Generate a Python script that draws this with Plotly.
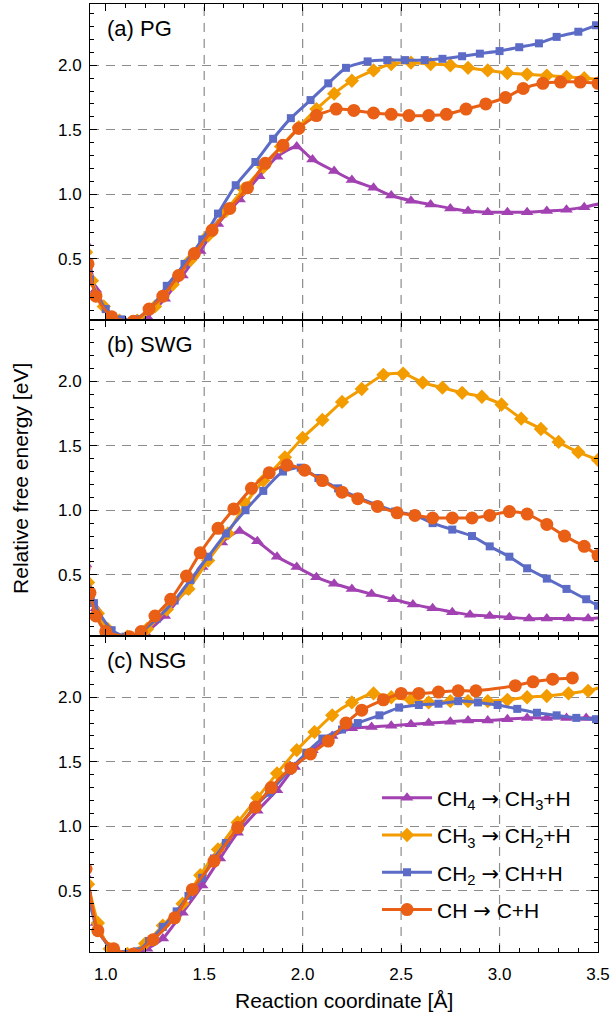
import plotly.graph_objects as go
from plotly.subplots import make_subplots

# ---------------- data ----------------
# (a) PG
PG_CH4_x = [0.90, 0.95, 1.03, 1.10, 1.21, 1.30, 1.39, 1.48, 1.57, 1.68, 1.78, 1.87, 1.97, 2.05, 2.16, 2.25, 2.36, 2.45, 2.55, 2.65, 2.75, 2.84, 2.94, 3.04, 3.14, 3.24, 3.34, 3.43, 3.52]
PG_CH4_y = [0.62, 0.26, 0.05, 0.01, 0.05, 0.19, 0.37, 0.56, 0.77, 0.96, 1.14, 1.29, 1.37, 1.27, 1.18, 1.11, 1.05, 0.99, 0.95, 0.92, 0.89, 0.87, 0.86, 0.86, 0.86, 0.87, 0.88, 0.90, 0.93]
PG_CH3_x = [0.90, 0.93, 0.99, 1.07, 1.16, 1.25, 1.34, 1.43, 1.52, 1.61, 1.70, 1.80, 1.89, 1.98, 2.07, 2.16, 2.25, 2.36, 2.45, 2.55, 2.65, 2.75, 2.84, 2.94, 3.04, 3.14, 3.24, 3.34, 3.43, 3.52]
PG_CH3_y = [0.55, 0.33, 0.13, 0.02, 0.02, 0.13, 0.30, 0.49, 0.68, 0.87, 1.04, 1.21, 1.37, 1.52, 1.66, 1.78, 1.88, 1.96, 2.01, 2.02, 2.01, 2.00, 1.98, 1.96, 1.94, 1.93, 1.92, 1.91, 1.90, 1.89]
PG_CH2_x = [0.88, 0.92, 1.00, 1.08, 1.15, 1.23, 1.31, 1.40, 1.49, 1.57, 1.66, 1.76, 1.85, 1.94, 2.04, 2.13, 2.22, 2.33, 2.43, 2.52, 2.62, 2.71, 2.81, 2.90, 3.00, 3.10, 3.20, 3.29, 3.40, 3.49]
PG_CH2_y = [0.62, 0.34, 0.11, 0.03, 0.03, 0.12, 0.29, 0.46, 0.65, 0.85, 1.07, 1.25, 1.43, 1.59, 1.73, 1.86, 1.98, 2.03, 2.04, 2.04, 2.04, 2.05, 2.07, 2.09, 2.11, 2.14, 2.17, 2.22, 2.26, 2.31]
PG_CH_x = [0.88, 0.91, 0.95, 1.03, 1.14, 1.22, 1.29, 1.37, 1.45, 1.54, 1.63, 1.72, 1.81, 1.90, 1.98, 2.07, 2.17, 2.26, 2.36, 2.45, 2.54, 2.64, 2.73, 2.83, 2.93, 3.03, 3.12, 3.22, 3.31, 3.41, 3.50]
PG_CH_y = [0.70, 0.46, 0.21, 0.05, 0.015, 0.11, 0.21, 0.37, 0.54, 0.72, 0.89, 1.05, 1.24, 1.38, 1.51, 1.61, 1.66, 1.65, 1.63, 1.62, 1.61, 1.61, 1.62, 1.66, 1.70, 1.75, 1.82, 1.86, 1.87, 1.87, 1.86]

# (b) SWG
SWG_CH4_x = [0.90, 0.95, 1.01, 1.09, 1.20, 1.30, 1.40, 1.49, 1.59, 1.68, 1.77, 1.87, 1.97, 2.07, 2.16, 2.25, 2.35, 2.46, 2.56, 2.66, 2.76, 2.85, 2.95, 3.05, 3.15, 3.24, 3.35, 3.45, 3.54]
SWG_CH4_y = [0.58, 0.24, 0.06, 0.00, 0.05, 0.18, 0.37, 0.56, 0.75, 0.84, 0.76, 0.64, 0.56, 0.48, 0.43, 0.39, 0.35, 0.31, 0.27, 0.24, 0.21, 0.19, 0.18, 0.17, 0.16, 0.16, 0.16, 0.16, 0.17]
SWG_CH3_x = [0.89, 0.91, 0.96, 1.01, 1.11, 1.21, 1.31, 1.42, 1.52, 1.62, 1.71, 1.80, 1.91, 2.00, 2.10, 2.20, 2.30, 2.41, 2.51, 2.61, 2.71, 2.81, 2.91, 3.01, 3.11, 3.21, 3.30, 3.40, 3.50]
SWG_CH3_y = [0.60, 0.44, 0.20, 0.08, 0.02, 0.08, 0.23, 0.39, 0.61, 0.82, 1.05, 1.23, 1.41, 1.56, 1.70, 1.84, 1.94, 2.05, 2.06, 1.99, 1.95, 1.91, 1.88, 1.82, 1.71, 1.63, 1.53, 1.45, 1.39]
SWG_CH2_x = [0.89, 0.94, 1.03, 1.10, 1.17, 1.26, 1.35, 1.43, 1.52, 1.61, 1.71, 1.80, 1.90, 1.99, 2.08, 2.18, 2.28, 2.38, 2.47, 2.57, 2.66, 2.76, 2.86, 2.95, 3.05, 3.14, 3.24, 3.34, 3.44, 3.50]
SWG_CH2_y = [0.60, 0.28, 0.07, 0.02, 0.05, 0.16, 0.30, 0.46, 0.64, 0.82, 1.00, 1.15, 1.30, 1.33, 1.25, 1.17, 1.10, 1.04, 0.99, 0.96, 0.90, 0.85, 0.80, 0.72, 0.64, 0.55, 0.47, 0.39, 0.31, 0.26]
SWG_CH_x = [0.89, 0.92, 0.95, 1.00, 1.12, 1.18, 1.25, 1.33, 1.41, 1.48, 1.57, 1.65, 1.74, 1.83, 1.92, 2.01, 2.10, 2.20, 2.28, 2.38, 2.48, 2.57, 2.66, 2.76, 2.86, 2.95, 3.05, 3.14, 3.24, 3.33, 3.43, 3.50]
SWG_CH_y = [0.55, 0.36, 0.18, 0.06, 0.02, 0.06, 0.18, 0.31, 0.49, 0.67, 0.86, 1.01, 1.17, 1.29, 1.35, 1.31, 1.23, 1.14, 1.09, 1.03, 0.98, 0.96, 0.94, 0.94, 0.94, 0.96, 0.99, 0.97, 0.89, 0.80, 0.72, 0.65]

# (c) NSG
NSG_CH4_x = [0.90, 0.95, 1.03, 1.12, 1.21, 1.29, 1.39, 1.49, 1.58, 1.67, 1.77, 1.87, 1.96, 2.05, 2.15, 2.25, 2.35, 2.45, 2.55, 2.64, 2.75, 2.84, 2.94, 3.04, 3.14, 3.24, 3.34, 3.44, 3.53]
NSG_CH4_y = [0.62, 0.25, 0.04, 0.00, 0.05, 0.13, 0.33, 0.54, 0.75, 0.95, 1.12, 1.28, 1.46, 1.59, 1.70, 1.76, 1.77, 1.78, 1.79, 1.80, 1.81, 1.82, 1.82, 1.83, 1.84, 1.84, 1.84, 1.84, 1.84]
NSG_CH3_x = [0.88, 0.91, 0.96, 1.02, 1.11, 1.20, 1.29, 1.39, 1.48, 1.57, 1.67, 1.77, 1.87, 1.97, 2.06, 2.15, 2.25, 2.36, 2.45, 2.55, 2.64, 2.75, 2.84, 2.94, 3.04, 3.14, 3.24, 3.35, 3.45, 3.54]
NSG_CH3_y = [0.75, 0.55, 0.25, 0.05, 0.01, 0.09, 0.23, 0.40, 0.62, 0.82, 1.03, 1.22, 1.41, 1.59, 1.73, 1.86, 1.96, 2.03, 2.00, 1.98, 1.96, 1.97, 1.97, 1.97, 1.98, 2.00, 2.01, 2.03, 2.05, 2.09]
NSG_CH2_x = [0.88, 0.91, 0.96, 1.03, 1.10, 1.16, 1.22, 1.29, 1.36, 1.42, 1.49, 1.55, 1.61, 1.68, 1.75, 1.83, 1.93, 2.02, 2.10, 2.20, 2.28, 2.39, 2.49, 2.59, 2.69, 2.79, 2.89, 2.99, 3.09, 3.19, 3.29, 3.39, 3.49]
NSG_CH2_y = [0.70, 0.46, 0.19, 0.05, 0.01, 0.03, 0.11, 0.22, 0.34, 0.46, 0.60, 0.75, 0.87, 1.00, 1.14, 1.26, 1.43, 1.57, 1.68, 1.75, 1.80, 1.86, 1.92, 1.94, 1.95, 1.97, 1.96, 1.94, 1.91, 1.88, 1.86, 1.84, 1.83]
NSG_CH_x = [0.88, 0.90, 0.96, 1.04, 1.14, 1.24, 1.35, 1.44, 1.55, 1.67, 1.76, 1.84, 1.94, 2.04, 2.13, 2.22, 2.30, 2.41, 2.50, 2.59, 2.69, 2.79, 2.88, 3.08, 3.17, 3.27, 3.37]
NSG_CH_y = [0.80, 0.67, 0.19, 0.05, 0.01, 0.12, 0.29, 0.51, 0.73, 0.99, 1.15, 1.30, 1.45, 1.56, 1.66, 1.80, 1.90, 1.98, 2.03, 2.03, 2.04, 2.05, 2.05, 2.09, 2.12, 2.14, 2.15]

panel_labels = ["(a) PG", "(b) SWG", "(c) NSG"]
ARROW = '<span style="font-family:DejaVu Sans">→</span>'
series_names = ["CH<sub>4</sub> " + ARROW + " CH<sub>3</sub>+H",
                "CH<sub>3</sub> " + ARROW + " CH<sub>2</sub>+H",
                "CH<sub>2</sub> " + ARROW + " CH+H",
                "CH " + ARROW + " C+H"]
x_title = "Reaction coordinate [Å]"
y_title = "Relative free energy [eV]"

# ---------------- styling ----------------
colors = ["#A241B1", "#F39C00", "#5B6BC6", "#E85F15"]
symbols = ["triangle-up", "diamond", "square", "circle"]
msizes = [11, 11, 8, 13]
FONT = "Liberation Sans, Arial, Helvetica, sans-serif"

panels = [
    [(PG_CH4_x, PG_CH4_y), (PG_CH3_x, PG_CH3_y), (PG_CH2_x, PG_CH2_y), (PG_CH_x, PG_CH_y)],
    [(SWG_CH4_x, SWG_CH4_y), (SWG_CH3_x, SWG_CH3_y), (SWG_CH2_x, SWG_CH2_y), (SWG_CH_x, SWG_CH_y)],
    [(NSG_CH4_x, NSG_CH4_y), (NSG_CH3_x, NSG_CH3_y), (NSG_CH2_x, NSG_CH2_y), (NSG_CH_x, NSG_CH_y)],
]

fig = make_subplots(rows=3, cols=1, shared_xaxes=True, vertical_spacing=0)

for r, data in enumerate(panels, start=1):
    for i, (xs, ys) in enumerate(data):
        fig.add_trace(go.Scatter(
            x=xs, y=ys, mode="lines+markers", name=series_names[i],
            legendgroup=str(i), showlegend=(r == 1),
            line=dict(color=colors[i], width=3, shape="spline", smoothing=0.6),
            marker=dict(symbol=symbols[i], size=msizes[i], color=colors[i], line=dict(width=0)),
        ), row=r, col=1)

axis_common = dict(
    ticks="inside", ticklen=7, tickwidth=1, tickcolor="black",
    showline=True, linecolor="black", linewidth=1, mirror="allticks",
    zeroline=False, tick0=0, dtick=0.5, tickformat=".1f",
    tickfont=dict(family=FONT, size=17, color="black"),
    minor=dict(ticks="inside", ticklen=4, tickwidth=1, tickcolor="black",
               tick0=0, dtick=0.1, showgrid=False),
)

for r in range(1, 4):
    fig.update_xaxes(range=[0.92, 3.5], showgrid=False, ticklabelstandoff=7, **axis_common, row=r, col=1)
    fig.update_yaxes(range=[0.025, 2.475], showgrid=True, gridcolor="#8c8c8c",
                     gridwidth=1.2, griddash="9px,7px", ticklabelstandoff=4, **axis_common, row=r, col=1)

# vertical dashed grid lines (only at 1.5, 2.0, 2.5, 3.0)
yrefs = ["y domain", "y2 domain", "y3 domain"]
xrefs = ["x", "x2", "x3"]
for r in range(3):
    for gx in [1.5, 2.0, 2.5, 3.0]:
        fig.add_shape(type="line", xref=xrefs[r], yref=yrefs[r], x0=gx, x1=gx, y0=0, y1=1,
                      line=dict(color="#8c8c8c", width=1.2, dash="9px,7px"), layer="below")

# panel labels
for r in range(3):
    fig.add_annotation(text=panel_labels[r], xref=xrefs[r] + " domain", yref=yrefs[r],
                       x=0.03, y=0.968, xanchor="left", yanchor="top", showarrow=False,
                       font=dict(family=FONT, size=22, color="black"))

fig.add_annotation(text=y_title, xref="paper", yref="paper", x=-0.138, y=0.5,
                   textangle=-90, showarrow=False, xanchor="center", yanchor="middle",
                   font=dict(family=FONT, size=21, color="black"))
fig.add_annotation(text=x_title, xref="paper", yref="paper", x=0.5, y=-0.051,
                   showarrow=False, xanchor="center", yanchor="middle",
                   font=dict(family=FONT, size=21, color="black"))

fig.update_layout(
    width=615, height=1026,
    margin=dict(l=90, r=17, t=4, b=74),
    plot_bgcolor="white", paper_bgcolor="white",
    font=dict(family=FONT, color="black"),
    legend=dict(x=0.565, y=0.184, xanchor="left", yanchor="top", itemwidth=50,
                bgcolor="rgba(0,0,0,0)", traceorder="grouped", tracegroupgap=7,
                font=dict(family=FONT, size=21, color="black")),
)

fig.write_html("out.html", config={"displayModeBar": False},
               post_script="document.body.style.margin='0px';")
